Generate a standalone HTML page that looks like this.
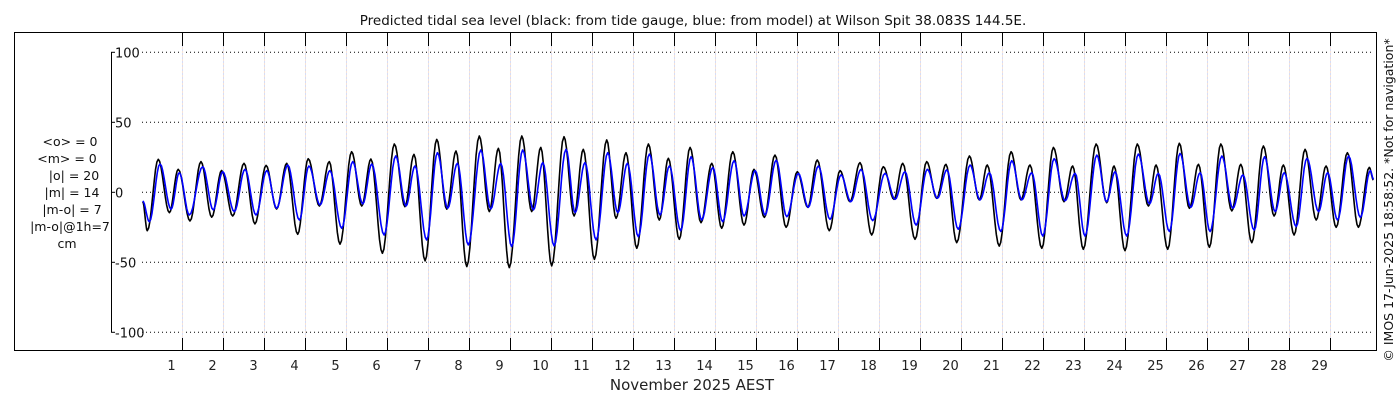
<!DOCTYPE html>
<html><head><meta charset="utf-8"><style>
html,body{margin:0;padding:0;background:#fff;}
svg{display:block;font-family:"DejaVu Sans","Liberation Sans",sans-serif;}
</style></head><body>
<svg id="chart" width="1400" height="400" viewBox="0 0 1400 400" xmlns="http://www.w3.org/2000/svg">
<text x="693" y="25" font-size="13.5" text-anchor="middle" fill="#111">Predicted tidal sea level (black: from tide gauge, blue: from model) at Wilson Spit 38.083S 144.5E.</text>
<rect x="14.5" y="32.5" width="1362" height="318" fill="none" stroke="#000" stroke-width="1"/>
<g id="grid"></g>
<g id="axes"></g>
<g id="series"></g>
<g font-size="12.5" text-anchor="middle" fill="#111">
<text x="70" y="146">&lt;o&gt; = 0</text>
<text x="67" y="163">&lt;m&gt; = 0</text>
<text x="74" y="180">|o| = 20</text>
<text x="72" y="197">|m| = 14</text>
<text x="72" y="214">|m-o| = 7</text>
<text x="70" y="231">|m-o|@1h=7</text>
<text x="67" y="248">cm</text>
</g>
<text x="692" y="390" font-size="15" text-anchor="middle" fill="#222">November 2025 AEST</text>
<text transform="translate(1393,200) rotate(-90)" font-size="12.5" text-anchor="middle" fill="#111">© IMOS 17-Jun-2025 18:58:52. *Not for navigation*</text>
</svg>
<script>
const dayLabels = [1,2,3,4,5,6,7,8,9,10,11,12,13,14,15,16,17,18,19,20,21,22,23,24,25,26,27,28,29];
const yTicks = [100,50,0,-50,-100];
// black (tide gauge) extrema: hours since 1 Nov 00:00, values in cm
const obsHours = [1.0,3.7,10.1,16.6,21.8,28.7,35.1,41.4,47.2,53.7,60.3,66.7,73.2,79.4,85.3,91.7,97.9,104.4,110.2,116.5,123.3,129.2,134.6,141.3,148.3,154.5,159.8,166.3,173.1,179.0,184.4,190.7,198.0,203.9,209.2,215.6,222.9,228.7,234.0,240.4,247.6,253.5,258.9,265.4,272.6,278.1,283.9,290.2,297.0,303.4,308.7,315.1,321.4,327.8,334.1,339.9,346.4,353.0,358.8,364.9,371.1,377.6,384.2,390.3,395.9,402.9,409.2,415.0,420.9,427.7,434.5,440.8,445.9,453.1,459.9,465.8,471.2,477.5,484.9,490.7,495.4,502.4,509.3,515.1,520.4,527.3,534.1,540.3,545.4,551.6,559.1,565.3,569.6,576.0,583.2,589.7,594.2,601.0,607.8,613.7,619.0,625.4,632.1,638.5,643.8,650.2,657.0,663.3,668.7,675.0,681.4,687.9,693.7,699.6,706.2,712.6,719.0,721.4];
const obsValues = [-6.7,-27.4,23.6,-14.6,16.4,-20.5,21.9,-17.8,15.6,-16.9,20.7,-22.6,19.2,-11.9,20.7,-30,24,-9.8,21.9,-37.1,29,-9.8,23.8,-43.6,34.5,-10.3,27.1,-49,37.8,-12.1,29.5,-53.1,40.2,-13.8,31.4,-53.8,40.2,-13.8,32.1,-52.6,39.7,-16.9,30.7,-47.9,37.4,-18.6,28.3,-40,34.5,-19.8,24.3,-33.6,32.1,-21.7,20.7,-25.7,29,-23.4,16.4,-17.9,26.6,-25,14.7,-10.7,23.1,-27.4,15.5,-6.7,21.2,-30.5,18.3,-5,20.7,-33.6,21.9,-4.3,20,-36,25.9,-5.4,19.5,-38.4,29,-5.4,19.5,-40,32.1,-6.7,18.8,-40.7,34.5,-7.4,18.8,-41.7,34.5,-9.8,19.5,-40.7,35,-11.4,20,-39.3,34.5,-13.3,20,-36,33.1,-16.9,19.5,-30.5,30.7,-19.8,18.8,-25,28.3,-25,17.8,8.8];
// blue (model) extrema
const modHours = [1.0,4.9,11.1,17.6,22.4,28.3,36.1,42.3,47.8,54.6,60.9,67.3,73.6,79.4,85.9,92.7,98.3,104.8,110.6,117.5,123.9,129.8,135.1,142.3,149.1,155.1,160.4,167.2,173.5,179.5,185.2,191.6,198.9,204.7,210.6,217.0,223.4,229.7,235.2,241.8,248.8,254.1,259.9,266.4,273.2,279.1,284.7,291.1,297.6,303.8,309.3,315.9,322.0,328.2,334.7,340.5,347.2,353.0,359.5,365.3,371.8,378.0,384.8,390.6,396.5,403.3,409.8,415.5,421.5,428.3,435.5,441.4,447.2,453.7,460.3,466.2,471.7,478.4,485.3,491.1,496.6,503.3,509.7,515.6,521.4,527.9,534.5,540.9,546.8,552.6,559.5,565.2,570.2,577.0,583.8,590.3,595.5,602.0,608.2,614.5,620.0,625.8,632.7,639.1,645.0,651.6,657.7,663.9,669.2,676.2,682.5,689.3,694.6,700.4,706.9,713.8,719.6,721.5];
const modValues = [-6.2,-21,20.2,-12.1,14,-16.2,18.3,-12.6,14.7,-13.8,16.4,-16.2,15.5,-11.4,19.5,-19.8,18.8,-9,15.5,-25.7,21.9,-8.3,20.2,-30.5,25.9,-9.8,18.8,-34,28.3,-11.4,20.7,-37.6,30.2,-11.9,20.7,-38.8,30.2,-12.6,21.2,-38.3,30.7,-14.6,21.2,-34,28.3,-14.6,20.7,-31.7,27.3,-16.2,18.8,-27.4,25.4,-19.8,17.8,-21,22.6,-16.9,15.5,-16.2,22.9,-17.4,13.5,-10.7,18.8,-19.3,12.4,-6.7,16.4,-20.2,13.5,-5,14.7,-23.4,16.4,-4.3,16,-26.4,19.5,-5.4,14,-28,22.6,-5.4,14,-31.2,24,-6,13.5,-31.2,26.6,-6.7,14.7,-31.2,27.3,-8.3,13.5,-28,27.8,-10.7,14,-28,25.9,-11.4,12.4,-27,25.4,-13.8,14,-24.5,24.3,-13.8,14,-19.8,25.9,-17.9,15.5,9.3];

const NS="http://www.w3.org/2000/svg";
const X0=141, PXDAY=41, Y0=192.3, PXCM=1.4;
function xScale(h){return X0+h/24*PXDAY;}
function yScale(v){return Y0-v*PXCM;}
function mk(tag,attrs,parent){const e=document.createElementNS(NS,tag);for(const k in attrs)e.setAttribute(k,attrs[k]);parent.appendChild(e);return e;}
const grid=document.getElementById('grid'), axes=document.getElementById('axes'), series=document.getElementById('series');

yTicks.forEach(v=>{
  const y=yScale(v);
  const gl=mk('line',{x1:142,x2:1374,y1:y,y2:y,stroke:'#000','stroke-width':1,'stroke-dasharray':'1 3'},grid);
  
  
  const tk=mk('line',{x1:111,x2:115,y1:y,y2:y,stroke:'#000','stroke-width':1},axes);
  
  
  const t=mk('text',{x:115,y:y+5,'font-size':13,fill:'#111'},axes);
  t.textContent=String(v);
  
  
});
const ya=mk('line',{x1:111.5,x2:111.5,y1:yScale(100),y2:yScale(-100),stroke:'#000','stroke-width':1},axes);



dayLabels.forEach(d=>{
  const x=Math.round(xScale(d*24))+0.5;
  const v1=mk('line',{x1:x,x2:x,y1:33,y2:350,stroke:'#d6dcf5','stroke-width':1,'stroke-dasharray':'2 2'},grid);
  
  
  const v2=mk('line',{x1:x,x2:x,y1:35,y2:350,stroke:'#f5e2d6','stroke-width':1,'stroke-dasharray':'2 2'},grid);
  
  
  const t1=mk('line',{x1:x,x2:x,y1:33,y2:46,stroke:'#000','stroke-width':1},axes);
  
  
  const t2=mk('line',{x1:x,x2:x,y1:338,y2:351,stroke:'#000','stroke-width':1},axes);
  
  
  const lb=mk('text',{x:x-11,y:370,'font-size':13,'text-anchor':'middle',fill:'#222'},axes);
  lb.textContent=String(d);
  
  
});

function curve(hours,vals){
  const n=Math.min(hours.length,vals.length);
  let d='M'+xScale(hours[0]).toFixed(1)+' '+yScale(vals[0]).toFixed(1);
  for(let i=0;i<n-1;i++){
    const h0=hours[i],h1=hours[i+1],v0=vals[i],v1=vals[i+1];
    const steps=8;
    for(let s=1;s<=steps;s++){
      const f=s/steps, w=(1-Math.cos(Math.PI*f))/2;
      d+='L'+xScale(h0+(h1-h0)*f).toFixed(1)+' '+yScale(v0+(v1-v0)*w).toFixed(1);
    }
  }
  return d;
}
const obs=mk('path',{d:curve(obsHours,obsValues),fill:'none',stroke:'#000','stroke-width':1.6,'stroke-linejoin':'round'},series);


const mod=mk('path',{d:curve(modHours,modValues),fill:'none',stroke:'#0000ff','stroke-width':1.6,'stroke-linejoin':'round'},series);


</script>
</body></html>
